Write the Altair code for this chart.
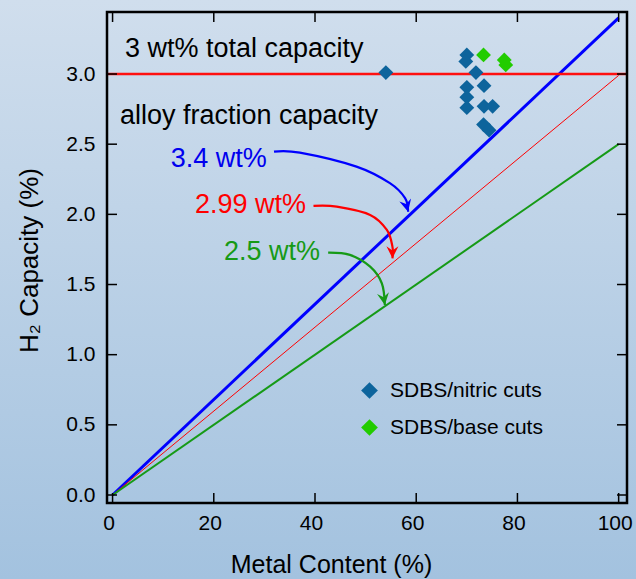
import altair as alt
import pandas as pd

# ---------------- data ----------------
x_ticks = [0, 20, 40, 60, 80, 100]
y_ticks = [0.0, 0.5, 1.0, 1.5, 2.0, 2.5, 3.0]

metal_ends = [0, 100]
line_names = ["3.4 wt%", "2.99 wt%", "2.5 wt%"]
line_caps = [3.4, 2.99, 2.5]
line_colors = ["#0000ff", "#ff0000", "#169a16"]
line_widths = [3, 1, 2]

total_capacity = 3.0

nitric_x = [54.0, 70.0, 69.8, 71.8, 70.0, 73.4, 70.0, 70.0, 73.4, 75.1, 73.3, 74.4]
nitric_y = [3.01, 3.136, 3.09, 3.01, 2.905, 2.917, 2.835, 2.76, 2.77, 2.77, 2.64, 2.60]
base_x = [73.3, 77.4, 77.7]
base_y = [3.136, 3.10, 3.065]
series_names = ["SDBS/nitric cuts", "SDBS/base cuts"]
series_colors = ["#0d649c", "#22cc00"]

note_texts = ["3 wt% total capacity", "alloy fraction capacity", "3.4 wt%", "2.99 wt%", "2.5 wt%"]
note_x = [2.45, 1.46, 11.48, 16.28, 22.0]
note_y = [3.12, 2.644, 2.34, 2.008, 1.675]
note_colors = ["#000000", "#000000", "#0000ee", "#ff0000", "#169a16"]

arrow_blue_x = [31.9, 37.0, 48.2, 54.8, 57.8, 58.4]
arrow_blue_y = [2.447, 2.44, 2.34, 2.222, 2.115, 2.019]
arrow_red_x = [39.7, 44.3, 50.9, 54.2, 55.3, 55.3]
arrow_red_y = [2.060, 2.055, 1.996, 1.889, 1.770, 1.687]
arrow_green_x = [42.6, 46.9, 50.9, 53.2, 53.8]
arrow_green_y = [1.727, 1.711, 1.627, 1.509, 1.354]
arrow_angles = [346, 0, 351]

# ---------------- tables ----------------
W, H = 520, 491
FONT = "Liberation Sans"
xdom = [-1.1, 101.65]
ydom = [-0.057, 3.442]
xs = alt.Scale(domain=xdom, nice=False, zero=False)
ys = alt.Scale(domain=ydom, nice=False, zero=False)

rows = []
for n, c, col, w in zip(line_names, line_caps, line_colors, line_widths):
    rows.append(dict(name=n, x=metal_ends[0], y=0.0, color=col, w=w))
    rows.append(dict(name=n, x=metal_ends[1], y=c, color=col, w=w))
lines_df = pd.DataFrame(rows)

pts = [dict(x=a, y=b, s=series_names[0]) for a, b in zip(nitric_x, nitric_y)]
pts += [dict(x=a, y=b, s=series_names[1]) for a, b in zip(base_x, base_y)]
pts_df = pd.DataFrame(pts)

notes_df = pd.DataFrame(dict(t=note_texts, x=note_x, y=note_y, c=note_colors))

arr = []
for name, ax, ay, col in [("b", arrow_blue_x, arrow_blue_y, line_colors[0]),
                          ("r", arrow_red_x, arrow_red_y, line_colors[1]),
                          ("g", arrow_green_x, arrow_green_y, line_colors[2])]:
    for i, (a, b) in enumerate(zip(ax, ay)):
        arr.append(dict(a=name, i=i, x=a, y=b, c=col))
arrows_df = pd.DataFrame(arr)
heads_df = pd.DataFrame(dict(
    x=[arrow_blue_x[-1], arrow_red_x[-1], arrow_green_x[-1]],
    y=[arrow_blue_y[-1], arrow_red_y[-1], arrow_green_y[-1]],
    c=line_colors, ang=arrow_angles))

xt_df = pd.DataFrame(dict(x=x_ticks))
yt_df = pd.DataFrame(dict(y=y_ticks))

# ---------------- layers ----------------
grad = alt.Gradient(gradient="linear", x1=0, y1=0, x2=0, y2=1,
                    stops=[alt.GradientStop(color="#d0deed", offset=0),
                           alt.GradientStop(color="#a3c2df", offset=1)])
bg = alt.Chart(pd.DataFrame(dict(k=[0]))).mark_rect(color=grad).encode(
    x=alt.value(-107), x2=alt.value(W + 9), y=alt.value(-12), y2=alt.value(H + 76))

xaxis = alt.Axis(values=x_ticks, format="d", labelFontSize=21, labelFont=FONT, labelColor="black",
                 tickSize=0, domain=False, grid=False, labelPadding=9, labelOffset=-4,
                 title="Metal Content (%)", titleFont=FONT, titleFontSize=25, titleFontWeight="normal",
                 titleColor="black", titleX=224, titleY=69, titleBaseline="alphabetic", zindex=1)
yaxis = alt.Axis(values=y_ticks, format=".1f", labelFontSize=21, labelFont=FONT, labelColor="black",
                 tickSize=0, domain=False, grid=False, labelPadding=12,
                 title="H₂ Capacity (%)", titleFont=FONT, titleFontSize=26, titleFontWeight="normal",
                 titleColor="black", titleX=-70, titleY=248, titleAngle=270, titleAlign="center",
                 titleBaseline="alphabetic", zindex=1)

lines = alt.Chart(lines_df).mark_line().encode(
    x=alt.X("x:Q", scale=xs, axis=xaxis),
    y=alt.Y("y:Q", scale=ys, axis=yaxis),
    detail="name:N",
    color=alt.Color("color:N", scale=None),
    strokeWidth=alt.StrokeWidth("w:Q", scale=None))

hline = alt.Chart(pd.DataFrame(dict(y=[total_capacity]))).mark_rule(
    color="#ff1010", strokeWidth=2.5).encode(y=alt.Y("y:Q", scale=ys))

points = alt.Chart(pts_df).mark_point(shape="diamond", filled=True, opacity=1, size=220).encode(
    x=alt.X("x:Q", scale=xs),
    y=alt.Y("y:Q", scale=ys),
    color=alt.Color("s:N", scale=alt.Scale(domain=series_names, range=series_colors),
                    legend=alt.Legend(orient="none", legendX=252, legendY=368, title=None,
                                      symbolType="diamond", symbolSize=280, symbolOpacity=1,
                                      symbolStrokeWidth=0, labelFontSize=21, labelFont=FONT,
                                      labelColor="black", labelOffset=10, labelLimit=0, rowPadding=15,
                                      padding=0, fillColor="transparent", strokeColor="transparent")))

notes = alt.Chart(notes_df).mark_text(align="left", baseline="alphabetic", fontSize=27, font=FONT).encode(
    x=alt.X("x:Q", scale=xs), y=alt.Y("y:Q", scale=ys),
    text="t:N", color=alt.Color("c:N", scale=None))

arrow_lines = alt.Chart(arrows_df).mark_line(interpolate="cardinal", strokeWidth=2.2).encode(
    x=alt.X("x:Q", scale=xs), y=alt.Y("y:Q", scale=ys),
    detail="a:N", order="i:Q", color=alt.Color("c:N", scale=None))

arrow_heads = alt.Chart(heads_df).mark_point(
    shape="M-1,-2L0,0L1,-2L0,-1.3Z", filled=True, opacity=1, size=144).encode(
    x=alt.X("x:Q", scale=xs), y=alt.Y("y:Q", scale=ys),
    color=alt.Color("c:N", scale=None), angle=alt.Angle("ang:Q", scale=None))

tick_len = 10
bt = alt.Chart(xt_df).mark_rule(color="black", strokeWidth=1.5).encode(
    x=alt.X("x:Q", scale=xs), y=alt.value(H), y2=alt.value(H - tick_len))
tt = alt.Chart(xt_df).mark_rule(color="black", strokeWidth=1.5).encode(
    x=alt.X("x:Q", scale=xs), y=alt.value(0), y2=alt.value(tick_len))
lt = alt.Chart(yt_df).mark_rule(color="black", strokeWidth=1.5).encode(
    y=alt.Y("y:Q", scale=ys), x=alt.value(0), x2=alt.value(tick_len))
rt = alt.Chart(yt_df).mark_rule(color="black", strokeWidth=1.5).encode(
    y=alt.Y("y:Q", scale=ys), x=alt.value(W), x2=alt.value(W - tick_len))

frame = alt.Chart(pd.DataFrame(dict(k=[0]))).mark_rect(
    fillOpacity=0, stroke="black", strokeWidth=2.5).encode(
    x=alt.value(0), x2=alt.value(W), y=alt.value(0), y2=alt.value(H))

chart = alt.layer(bg, lines, hline, arrow_lines, arrow_heads, notes, points, bt, tt, lt, rt, frame).properties(
    width=W, height=H,
    autosize=alt.AutoSizeParams(type="none"),
    padding={"left": 107, "top": 12, "right": 9, "bottom": 76},
    background="#bccfe5",
).configure_view(stroke=None)

chart.save("out.html", embed_options={"renderer": "svg", "actions": False})
